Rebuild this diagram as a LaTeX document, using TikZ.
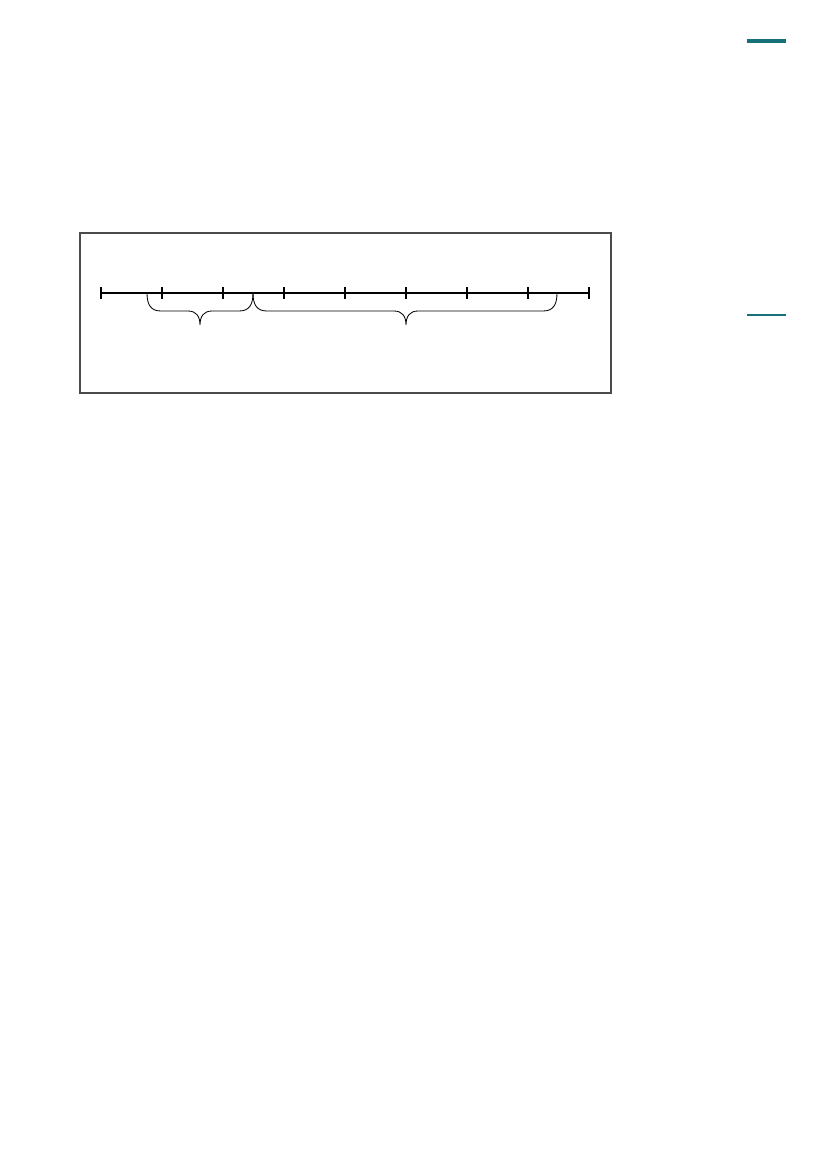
\documentclass[tikz,border=0pt]{standalone}
\usepackage{tikz}
\usetikzlibrary{positioning}
\definecolor{teal}{RGB}{22,112,122}
\definecolor{framegray}{RGB}{75,75,75}

\begin{document}
\begin{tikzpicture}[x=0.7198pt,y=-0.7198pt,
  axistick/.style={line width=1.4pt},
  bracepath/.style={line width=0.6pt},
  marker/.style={color=teal}]
\useasboundingbox (0,0) rectangle (827,1169);
\draw [marker, line width=2.2pt] (747,41) -- (786,41);
\draw [marker, line width=1.5pt] (747,315) -- (786,315);
\draw [framegray, line width=1pt] (80,233) rectangle (611,393);
% the line and its ticks
\coordinate (a0) at (101,293);
\coordinate (a8) at (589,293);
\draw [line width=1pt] (a0) -- (a8);
\draw [axistick] (101,287) -- (101,299);
\draw [axistick] (162,287) -- (162,299);
\draw [axistick] (223,287) -- (223,299);
\draw [axistick] (284,287) -- (284,299);
\draw [axistick] (345,287) -- (345,299);
\draw [axistick] (406,287) -- (406,299);
\draw [axistick] (467,287) -- (467,299);
\draw [axistick] (528,287) -- (528,299);
\draw [axistick] (589,287) -- (589,299);
% braces under the line
\draw [bracepath] (147,293) .. controls (147,305) and (151,311) .. (161,311) -- (188,311)
  .. controls (196,311) and (200,316) .. (200,325) .. controls (200,316) and (204,311) .. (212,311)
  -- (239,311) .. controls (249,311) and (253,305) .. (253,293);
\draw [bracepath] (253,293) .. controls (253,305) and (257,311) .. (267,311) -- (394,311)
  .. controls (402,311) and (406,316) .. (406,325) .. controls (406,316) and (410,311) .. (418,311)
  -- (543,311) .. controls (553,311) and (557,305) .. (557,293);
\end{tikzpicture}
\end{document}
